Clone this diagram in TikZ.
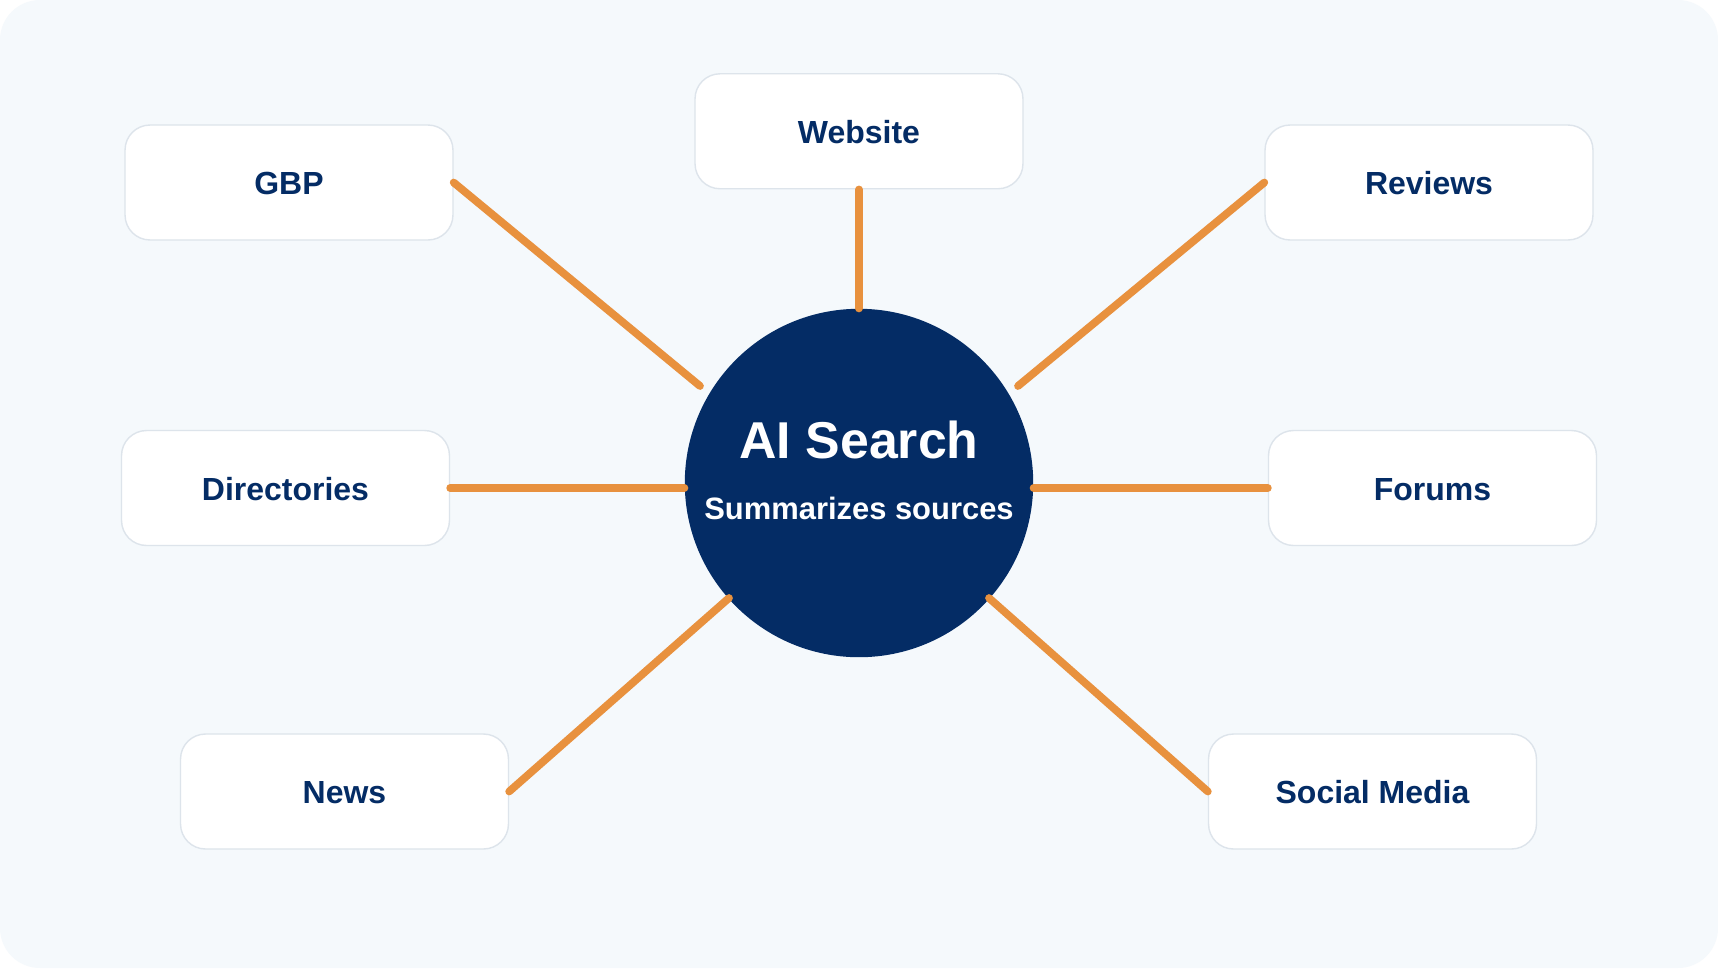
\documentclass[tikz,border=0pt]{standalone}
\usepackage{fontspec}
\setmainfont{Liberation Sans}
\usetikzlibrary{positioning}
\definecolor{navy}{HTML}{042C65}
\definecolor{linkorange}{HTML}{E8913E}
\definecolor{panelbg}{HTML}{F5F9FC}
\definecolor{boxline}{HTML}{DDE4EB}

\begin{document}
\begin{tikzpicture}[x=0.02cm,y=-0.02cm,
  box/.style={draw=boxline,line width=0.8pt,fill=white,rounded corners=0.5cm,minimum width=6.56cm,minimum height=2.3cm,inner sep=0pt,text height=14.2pt,text depth=0pt,font=\fontsize{18.2}{22}\selectfont\bfseries,text=navy},
  link/.style={draw=linkorange,line width=4.4pt,line cap=round}]
  \useasboundingbox (0,0) rectangle (1718,968);
  \fill[white] (0,0) rectangle (1718,968);
  \fill[panelbg,rounded corners=0.8cm] (0,0) rectangle (1718,968);
  % hub in the middle
  \node[circle,fill=navy,minimum size=6.97cm,inner sep=0pt] (hub) at (859,483) {};
  \node[text=white,font=\fontsize{29.5}{34}\selectfont\bfseries,anchor=base] (hubtitle) at (859,458) {AI Search};
  \node[text=white,font=\fontsize{17.6}{21}\selectfont\bfseries,anchor=base] (hubsub) at (859,519) {Summarizes sources};
  % sources
  \node[box,above=2.38cm of hub] (website) {Website};
  \node[box] (gbp) at (289,182.5) {GBP};
  \node[box] (reviews) at (1429,182.5) {Reviews};
  \node[box] (dirs) at (285.5,488) {Directories};
  \node[box] (forums) at (1432.5,488) {Forums};
  \node[box] (news) at (344.5,791.5) {News};
  \node[box] (social) at (1372.5,791.5) {Social Media};
  % free ends near the hub
  \coordinate (gbpEnd) at (700,386);
  \coordinate (reviewsEnd) at (1018,386);
  \coordinate (newsEnd) at (729,598);
  \coordinate (socialEnd) at (989,598);
  \draw[link] (website.south) -- (hub.north);
  \draw[link] (gbp.east) -- (gbpEnd);
  \draw[link] (reviews.west) -- (reviewsEnd);
  \draw[link] (dirs.east) -- (dirs.east -| hub.west);
  \draw[link] (forums.west) -- (forums.west -| hub.east);
  \draw[link] (news.east) -- (newsEnd);
  \draw[link] (social.west) -- (socialEnd);
\end{tikzpicture}
\end{document}
